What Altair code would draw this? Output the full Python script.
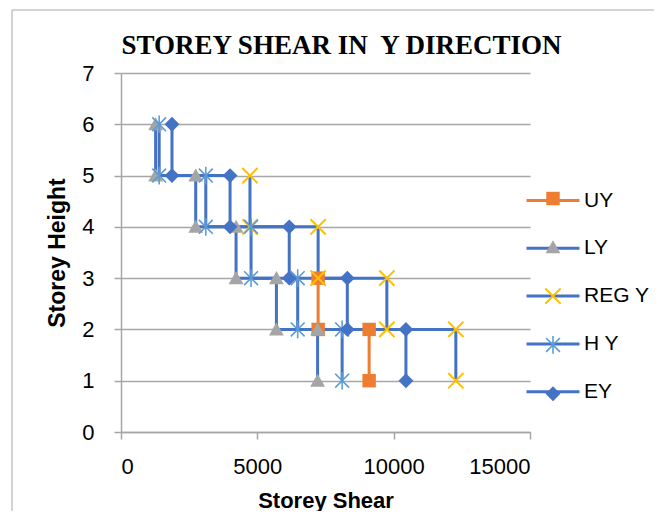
import altair as alt
import pandas as pd

# ---- data ----
series_names = ["UY", "LY", "REG Y", "H Y", "EY"]
line_colors = ["#ED7D31", "#4472C4", "#4472C4", "#4472C4", "#4472C4"]
marker_colors = ["#ED7D31", "#A5A5A5", "#FFC000", "#5B9BD5", "#4472C4"]
marker_shapes = [
    "M-0.95,-0.95L0.95,-0.95L0.95,0.95L-0.95,0.95Z",
    "M0,-1L1.05,0.85L-1.05,0.85Z",
    "M-0.98,-1.18L1.18,0.98L0.98,1.18L-1.18,-0.98Z"
    "M-1.18,0.98L0.98,-1.18L1.18,-0.98L-0.98,1.18Z",
    "M-0.9,-1.06L1.06,0.9L0.9,1.06L-1.06,-0.9Z"
    "M-1.06,0.9L0.9,-1.06L1.06,-0.9L-0.9,1.06Z"
    "M-0.11,-1.25L0.11,-1.25L0.11,1.25L-0.11,1.25Z",
    "M0,-1.05L1.05,0L0,1.05L-1.05,0Z",
]

uy_shear = [7230, 7230, 9100, 9100]
uy_storey = [3, 2, 2, 1]
ly_shear = [1270, 1270, 2740, 2740, 4220, 4220, 5700, 5700, 7210, 7210]
ly_storey = [6, 5, 5, 4, 4, 3, 3, 2, 2, 1]
regy_shear = [4730, 4730, 7230, 7230, 9750, 9750, 12280, 12280]
regy_storey = [5, 4, 4, 3, 3, 2, 2, 1]
hy_shear = [1400, 1400, 3110, 3110, 4770, 4770, 6480, 6480, 8110, 8110]
hy_storey = [6, 5, 5, 4, 4, 3, 3, 2, 2, 1]
ey_shear = [1870, 1870, 4000, 4000, 6170, 6170, 8300, 8300, 10450, 10450]
ey_storey = [6, 5, 5, 4, 4, 3, 3, 2, 2, 1]

x_ticks = [0, 5000, 10000, 15000]
y_ticks = [0, 1, 2, 3, 4, 5, 6, 7]

rows = []
for name, xs, ys in zip(
    series_names,
    [uy_shear, ly_shear, regy_shear, hy_shear, ey_shear],
    [uy_storey, ly_storey, regy_storey, hy_storey, ey_storey],
):
    for i, (xv, yv) in enumerate(zip(xs, ys)):
        rows.append({"series": name, "marker": name, "shear": xv, "storey": yv, "idx": i})
df = pd.DataFrame(rows)

FONT = "Liberation Sans"
GRAY = "#A6A6A6"
W, H = 409, 359

x_enc = alt.X(
    "shear:Q",
    scale=alt.Scale(domain=[0, 15000], nice=False),
    axis=alt.Axis(
        values=x_ticks, format="d", grid=False,
        title="Storey Shear", titleFont=FONT, titleFontSize=22, titleFontWeight="bold",
        titleColor="black", titleX=W / 2, titleY=68, titleBaseline="middle", titleAlign="center",
        labelFont=FONT, labelFontSize=22, labelColor="black", labelPadding=17,
        tickSize=7, tickColor=GRAY, tickWidth=1.5, domainColor=GRAY, domainWidth=1.5,
    ),
)
y_enc = alt.Y(
    "storey:Q",
    scale=alt.Scale(domain=[0, 7], nice=False),
    axis=alt.Axis(
        values=y_ticks, grid=True, gridColor=GRAY, gridWidth=1.5,
        title="Storey Height", titleFont=FONT, titleFontSize=23, titleFontWeight="bold",
        titleColor="black", titleX=-64, titleY=H / 2, titleBaseline="middle", titleAlign="center",
        titleAngle=-90,
        labelFont=FONT, labelFontSize=22, labelColor="black", labelPadding=20,
        tickSize=7, tickColor=GRAY, tickWidth=1.5, domainColor=GRAY, domainWidth=1.5,
    ),
)

line_legend = alt.Legend(
    title=None, orient="none", legendX=417, legendY=112.5, padding=0,
    symbolType="M-2,0L2,0", symbolSize=702, symbolStrokeWidth=3,
    labelFont=FONT, labelFontSize=21, labelColor="black", labelOffset=16,
    rowPadding=22.8,
)
marker_legend = alt.Legend(
    title=None, orient="none", legendX=421.5, legendY=115, padding=0,
    symbolSize=200, symbolStrokeWidth=0, symbolOpacity=1,
    labelFont=FONT, labelFontSize=21, labelExpr="''", rowPadding=26.8,
)

lines = alt.Chart(df).mark_line(strokeWidth=3).encode(
    x=x_enc,
    y=y_enc,
    color=alt.Color("series:N", scale=alt.Scale(domain=series_names, range=line_colors),
                    legend=line_legend),
    order=alt.Order("idx:Q"),
)

points = alt.Chart(df).mark_point(filled=True, size=200, strokeWidth=0, opacity=1).encode(
    x=x_enc,
    y=y_enc,
    color=alt.Color("marker:N", scale=alt.Scale(domain=series_names, range=marker_colors),
                    legend=marker_legend),
    shape=alt.Shape("marker:N", scale=alt.Scale(domain=series_names, range=marker_shapes),
                    legend=marker_legend),
)

frame = alt.Chart(alt.Data(values=[{"k": 1}])).mark_rect(
    fillOpacity=0, stroke=GRAY, strokeWidth=1, clip=False
).encode(
    x=alt.value(-109), x2=alt.value(620), y=alt.value(-63), y2=alt.value(600)
)

chart = alt.layer(frame, lines, points).resolve_scale(
    color="independent", shape="independent"
).resolve_legend(
    color="independent", shape="independent"
).properties(
    width=W,
    height=H,
    title=alt.TitleParams(
        "STOREY SHEAR IN\u00a0 Y DIRECTION", font="Liberation Serif", fontSize=27,
        fontWeight="bold", color="black", anchor="middle", frame="group", dx=16, offset=-50,
    ),
    autosize=alt.AutoSizeParams(type="none"),
    padding={"left": 113, "top": 65, "right": 124, "bottom": 79},
).configure_view(stroke=None)

chart.save("out.html", embed_options={"renderer": "svg", "actions": False})
